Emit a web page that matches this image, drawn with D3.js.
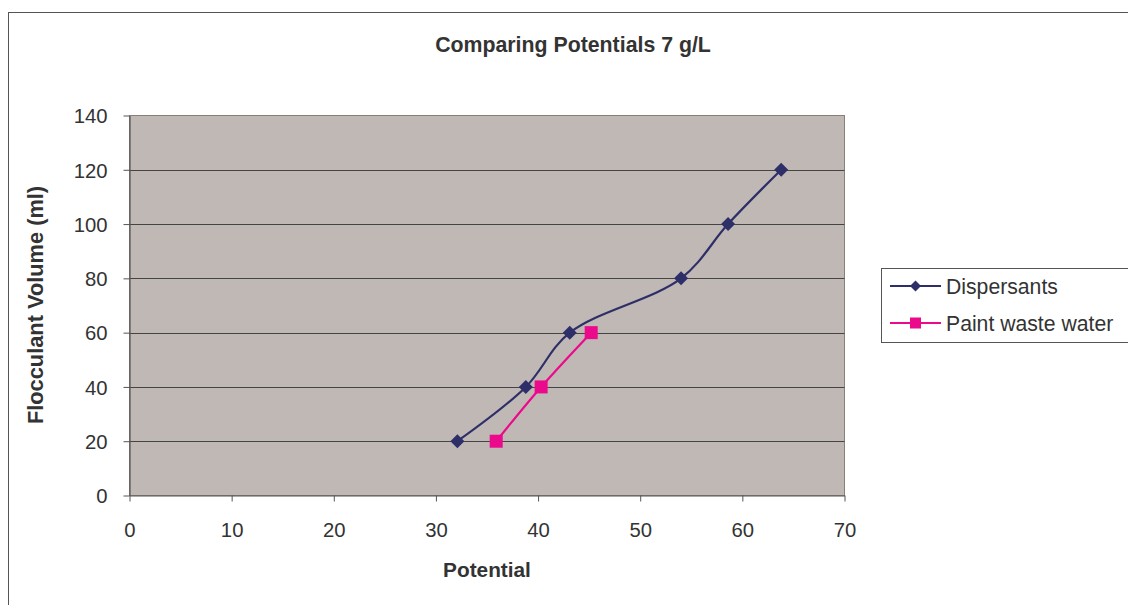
<!DOCTYPE html>
<html>
<head>
<meta charset="utf-8">
<script src="https://cdn.jsdelivr.net/npm/d3@7"></script>
<style>
  html, body { margin: 0; padding: 0; background: #fff; }
  svg { display: block; font-family: "Liberation Sans", Arial, sans-serif; }
</style>
</head>
<body>
<svg id="chart" width="1128" height="605"></svg>
<script>
// Potential (x) against flocculant volume (y) for two samples
const dispersantsPotential = [32.1, 38.8, 43.1, 54.0, 58.6, 63.8];
const dispersantsVolume    = [20, 40, 60, 80, 100, 120];
const paintPotential       = [35.9, 40.3, 45.2];
const paintVolume          = [20, 40, 60];
const xTicks = [0, 10, 20, 30, 40, 50, 60, 70];
const yTicks = [0, 20, 40, 60, 80, 100, 120, 140];
const seriesNames = ["Dispersants", "Paint waste water"];

const svg = d3.select("#chart");
const textColor = "#333";

// outer chart frame (open to the right/bottom edge)
svg.append("rect")
  .attr("x", 8.5).attr("y", 12.5)
  .attr("width", 1200).attr("height", 700)
  .attr("fill", "#fff").attr("stroke", "#555").attr("stroke-width", 1);

const plot = { left: 129.5, right: 844.5, top: 115.5, bottom: 495.5 };

const x = d3.scaleLinear().domain([0, 70]).range([plot.left, plot.right]);
const y = d3.scaleLinear().domain([0, 140]).range([plot.bottom, plot.top]);

// plot background
svg.append("rect")
  .attr("x", plot.left).attr("y", plot.top)
  .attr("width", plot.right - plot.left).attr("height", plot.bottom - plot.top)
  .attr("fill", "#C0B8B5").attr("stroke", "#8A7E7B").attr("stroke-width", 1);

// horizontal gridlines
svg.append("g")
  .selectAll("line")
  .data(yTicks.filter(v => v > 0 && v < 140))
  .join("line")
  .attr("x1", plot.left).attr("x2", plot.right)
  .attr("y1", d => Math.round(y(d)) + 0.5).attr("y2", d => Math.round(y(d)) + 0.5)
  .attr("stroke", "#444").attr("stroke-width", 1);

// axes
const xAxis = svg.append("g")
  .attr("transform", `translate(0,${plot.bottom})`)
  .call(d3.axisBottom(x).tickValues(xTicks).tickSize(6).tickSizeOuter(0).tickPadding(21));
const yAxis = svg.append("g")
  .attr("transform", `translate(${plot.left},0)`)
  .call(d3.axisLeft(y).tickValues(yTicks).tickSize(6).tickSizeOuter(0).tickPadding(16));

[xAxis, yAxis].forEach(g => {
  g.select(".domain").attr("stroke", "#555").attr("stroke-width", 1.2);
  g.selectAll(".tick line").attr("stroke", "#555");
  g.selectAll(".tick text")
    .attr("fill", textColor)
    .style("font-size", "20.3px")
    .style("font-family", "'Liberation Sans', Arial, sans-serif");
});
xAxis.selectAll(".tick text").attr("dy", "0.71em");
yAxis.selectAll(".tick text").attr("dy", "0.36em");

// titles
svg.append("text")
  .attr("x", 573).attr("y", 52)
  .attr("text-anchor", "middle")
  .attr("fill", textColor)
  .style("font-size", "21.3px").style("font-weight", "bold")
  .text("Comparing Potentials 7 g/L");

svg.append("text")
  .attr("x", 487).attr("y", 577)
  .attr("text-anchor", "middle")
  .attr("fill", textColor)
  .style("font-size", "20.8px").style("font-weight", "bold")
  .text("Potential");

svg.append("text")
  .attr("transform", "translate(43,305) rotate(-90)")
  .attr("text-anchor", "middle")
  .attr("fill", textColor)
  .style("font-size", "21.8px").style("font-weight", "bold")
  .text("Flocculant Volume (ml)");

// series
const line = d3.line()
  .x(d => x(d[0])).y(d => y(d[1]))
  .curve(d3.curveCatmullRom.alpha(0.5));

const dispersants = dispersantsPotential.map((p, i) => [p, dispersantsVolume[i]]);
const paint = paintPotential.map((p, i) => [p, paintVolume[i]]);

const navy = "#2E2F68";
const pink = "#EC0A8C";

svg.append("path").datum(dispersants)
  .attr("d", line).attr("fill", "none")
  .attr("stroke", navy).attr("stroke-width", 2.2);
svg.append("path").datum(paint)
  .attr("d", line).attr("fill", "none")
  .attr("stroke", pink).attr("stroke-width", 2.2);

const diamond = s => `M0,${-s}L${s},0L0,${s}L${-s},0Z`;

svg.append("g").selectAll("path")
  .data(dispersants).join("path")
  .attr("transform", d => `translate(${x(d[0])},${y(d[1])})`)
  .attr("d", diamond(7))
  .attr("fill", navy);

svg.append("g").selectAll("rect")
  .data(paint).join("rect")
  .attr("x", d => x(d[0]) - 6.5).attr("y", d => y(d[1]) - 6.5)
  .attr("width", 13).attr("height", 13)
  .attr("fill", pink);

// legend
const legend = svg.append("g");
legend.append("rect")
  .attr("x", 881.5).attr("y", 268.5)
  .attr("width", 400).attr("height", 74)
  .attr("fill", "#fff").attr("stroke", "#555").attr("stroke-width", 1);

const legendRows = [
  { name: seriesNames[0], color: navy, y: 286, shape: "diamond" },
  { name: seriesNames[1], color: pink, y: 323, shape: "square" }
];
legendRows.forEach(r => {
  legend.append("line")
    .attr("x1", 890).attr("x2", 941)
    .attr("y1", r.y).attr("y2", r.y)
    .attr("stroke", r.color).attr("stroke-width", 2.2);
  if (r.shape === "diamond") {
    legend.append("path")
      .attr("transform", `translate(915.5,${r.y})`)
      .attr("d", diamond(5.5)).attr("fill", r.color);
  } else {
    legend.append("rect")
      .attr("x", 910).attr("y", r.y - 5.5)
      .attr("width", 11).attr("height", 11)
      .attr("fill", r.color);
  }
  legend.append("text")
    .attr("x", 946).attr("y", r.y)
    .attr("dy", "0.36em")
    .attr("fill", textColor)
    .style("font-size", "21.2px")
    .text(r.name);
});
</script>
</body>
</html>
